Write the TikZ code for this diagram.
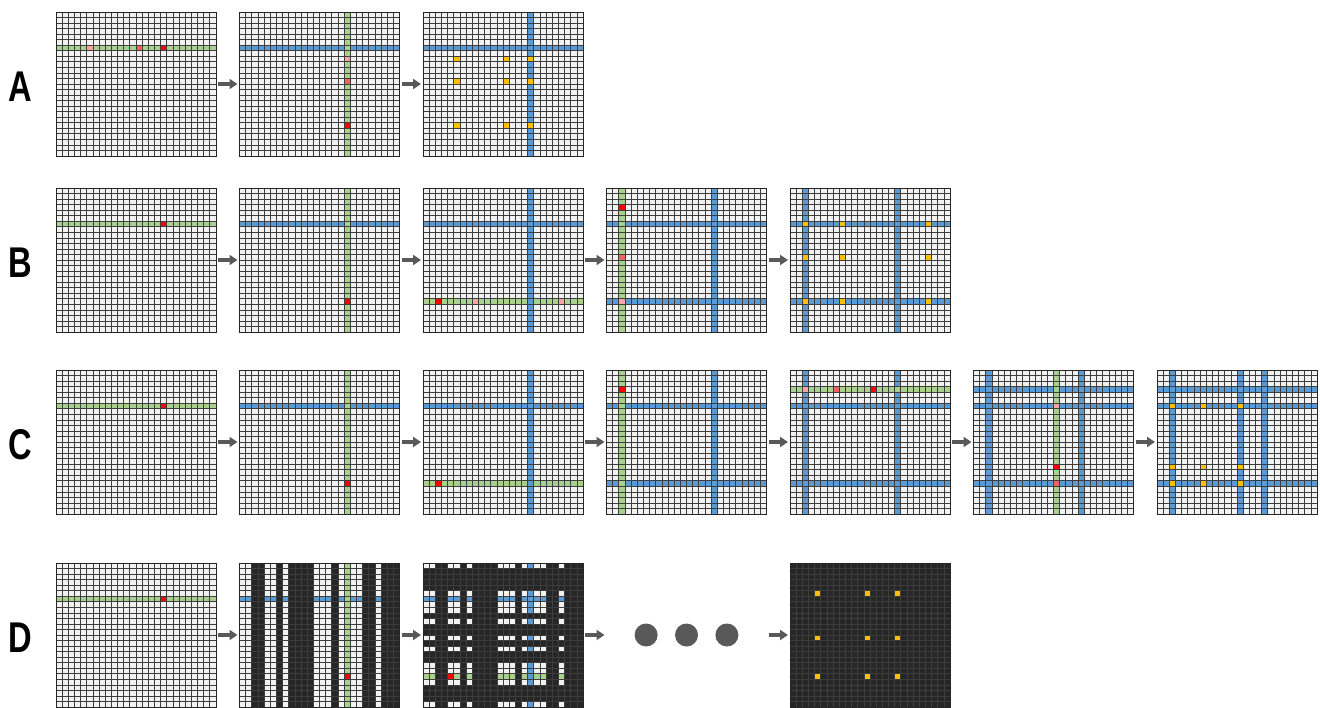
\documentclass[tikz,border=0pt]{standalone}
\usepackage{fontspec}
\newfontfamily\labelfont{Liberation Sans}
\usetikzlibrary{arrows.meta,positioning}
\definecolor{cellbg}{RGB}{242,242,242}
\definecolor{cellblack}{RGB}{38,38,38}
\definecolor{lineblue}{RGB}{91,155,213}
\definecolor{linegreen}{RGB}{169,209,142}
\definecolor{hitred}{RGB}{255,0,0}
\definecolor{hitmid}{RGB}{240,100,100}
\definecolor{hitpink}{RGB}{250,165,165}
\definecolor{hityellow}{RGB}{255,192,0}
\definecolor{arrowgray}{RGB}{89,89,89}

% cell helpers, used inside a panel (26 x 26 cells)
\newcommand{\rowfill}[2]{\fill[#1] (0,#2) rectangle (26,#2+1);}
\newcommand{\colfill}[2]{\fill[#1] (#2,0) rectangle (#2+1,26);}
\newcommand{\cellfill}[3]{\fill[#1] (#2,#3) rectangle ++(1,1);}
% panel: name, placement, content
\newcommand{\gridpanel}[3]{%
  \node[panel, #2] (#1) {};
  \begin{scope}[shift={(#1.north west)}, x=6.1538pt, y=-5.5385pt]
    #3
    \foreach \k in {1,...,25} {
      \draw[gridline] (\k,0) -- (\k,26);
      \draw[gridline] (0,\k) -- (26,\k);
    }
  \end{scope}
  \draw[frame] (#1.north west) rectangle (#1.south east);
}

\begin{document}
\begin{tikzpicture}[x=1pt, y=-1pt,
  panel/.style={anchor=north west, minimum width=160pt, minimum height=144pt, inner sep=0pt, outer sep=0pt, fill=cellbg},
  gridline/.style={draw=black!76, line width=0.7pt},
  frame/.style={draw=black!85, line width=1pt},
  arr/.style={-{Triangle[length=8pt,width=10pt]}, line width=3.5pt, arrowgray, shorten <=2pt, shorten >=2pt},
  rowlabel/.style={font=\labelfont\bfseries\fontsize{43}{43}\selectfont, xscale=0.76, inner sep=0pt},
  dot/.style={circle, fill=arrowgray, minimum size=23pt, inner sep=0pt}]
\useasboundingbox (0,0) rectangle (1320,707);

% row A
\gridpanel{a1}{at={(56,12)}}{
  \rowfill{linegreen}{6}
  \cellfill{hitpink}{5}{6} \cellfill{hitmid}{13}{6} \cellfill{hitred}{17}{6}}
\gridpanel{a2}{right=23.5pt of a1}{
  \rowfill{lineblue}{6} \colfill{linegreen}{17}
  \cellfill{hitpink}{17}{8} \cellfill{hitmid}{17}{12} \cellfill{hitred}{17}{20}}
\gridpanel{a3}{right=23.5pt of a2}{
  \rowfill{lineblue}{6} \colfill{lineblue}{17}
  \foreach \c in {5,13,17} \foreach \r in {8,12,20} {\cellfill{hityellow}{\c}{\r}}}

% row B
\gridpanel{b1}{at={(56,188)}}{
  \rowfill{linegreen}{6} \cellfill{hitred}{17}{6}}
\gridpanel{b2}{right=23.5pt of b1}{
  \rowfill{lineblue}{6} \colfill{linegreen}{17} \cellfill{hitred}{17}{20}}
\gridpanel{b3}{right=23.5pt of b2}{
  \rowfill{lineblue}{6} \rowfill{linegreen}{20} \colfill{lineblue}{17}
  \cellfill{hitred}{2}{20} \cellfill{hitpink}{8}{20} \cellfill{hitpink}{22}{20}}
\gridpanel{b4}{right=23.5pt of b3}{
  \rowfill{lineblue}{6} \rowfill{lineblue}{20} \colfill{lineblue}{17} \colfill{linegreen}{2}
  \cellfill{hitred}{2}{3} \cellfill{hitmid}{2}{12} \cellfill{hitpink}{2}{20}}
\gridpanel{b5}{right=23.5pt of b4}{
  \rowfill{lineblue}{6} \rowfill{lineblue}{20} \colfill{lineblue}{2} \colfill{lineblue}{17}
  \foreach \c in {2,8,22} \foreach \r in {6,12,20} {\cellfill{hityellow}{\c}{\r}}}

% row C
\gridpanel{c1}{at={(56,370)}}{
  \rowfill{linegreen}{6} \cellfill{hitred}{17}{6}}
\gridpanel{c2}{right=23.5pt of c1}{
  \rowfill{lineblue}{6} \colfill{linegreen}{17} \cellfill{hitred}{17}{20}}
\gridpanel{c3}{right=23.5pt of c2}{
  \rowfill{lineblue}{6} \rowfill{linegreen}{20} \colfill{lineblue}{17} \cellfill{hitred}{2}{20}}
\gridpanel{c4}{right=23.5pt of c3}{
  \rowfill{lineblue}{6} \rowfill{lineblue}{20} \colfill{lineblue}{17} \colfill{linegreen}{2}
  \cellfill{hitred}{2}{3}}
\gridpanel{c5}{right=23.5pt of c4}{
  \rowfill{lineblue}{6} \rowfill{lineblue}{20} \colfill{lineblue}{2} \colfill{lineblue}{17}
  \rowfill{linegreen}{3}
  \cellfill{hitpink}{2}{3} \cellfill{hitmid}{7}{3} \cellfill{hitred}{13}{3}}
\gridpanel{c6}{right=23.5pt of c5}{
  \foreach \r in {3,6,20} {\rowfill{lineblue}{\r}}
  \colfill{lineblue}{2} \colfill{lineblue}{17} \colfill{linegreen}{13}
  \cellfill{hitpink}{13}{6} \cellfill{hitred}{13}{17} \cellfill{hitmid}{13}{20}}
\gridpanel{c7}{right=23.5pt of c6}{
  \foreach \r in {3,6,20} {\rowfill{lineblue}{\r}}
  \foreach \c in {2,13,17} {\colfill{lineblue}{\c}}
  \foreach \c in {2,7,13} \foreach \r in {6,17,20} {\cellfill{hityellow}{\c}{\r}}}

% row D
\gridpanel{d1}{at={(56,563)}}{
  \rowfill{linegreen}{6} \cellfill{hitred}{17}{6}}
\gridpanel{d2}{right=23.5pt of d1}{
  \rowfill{lineblue}{6} \colfill{linegreen}{17}
  \foreach \c in {2,3,6,8,9,10,11,15,20,21,23,24,25} {\colfill{cellblack}{\c}}
  \cellfill{hitred}{17}{20}}
\gridpanel{d3}{right=23.5pt of d2}{
  \rowfill{lineblue}{6} \rowfill{linegreen}{20} \colfill{lineblue}{17}
  \foreach \c in {2,3,6,8,9,10,11,15,20,21,23,24,25} {\colfill{cellblack}{\c}}
  \foreach \r in {1,2,3,4,9,11,12,14,16,17,22,23,24} {\rowfill{cellblack}{\r}}
  \cellfill{hitred}{4}{20}}
\node[panel, fill=none, right=23.5pt of d3] (d4) {};
\node[dot] (dot2) at (d4) {};
\node[dot, left=17pt of dot2] (dot1) {};
\node[dot, right=17pt of dot2] (dot3) {};
\gridpanel{d5}{right=23.5pt of d4}{
  \fill[cellblack] (0,0) rectangle (26,26);
  \foreach \c in {4,12,17} \foreach \r in {5,13,20} {\cellfill{hityellow}{\c}{\r}}}

% row labels
\node[rowlabel] (labA) at (20,87) {A};
\node[rowlabel] (labB) at (20,263) {B};
\node[rowlabel] (labC) at (20,445) {C};
\node[rowlabel] (labD) at (20,638) {D};

% arrows
\foreach \p/\q in {a1/a2, a2/a3, b1/b2, b2/b3, b3/b4, b4/b5, c1/c2, c2/c3, c3/c4, c4/c5, c5/c6, c6/c7, d1/d2, d2/d3, d3/d4, d4/d5}
  \draw[arr] (\p) -- (\q);
\end{tikzpicture}
\end{document}
